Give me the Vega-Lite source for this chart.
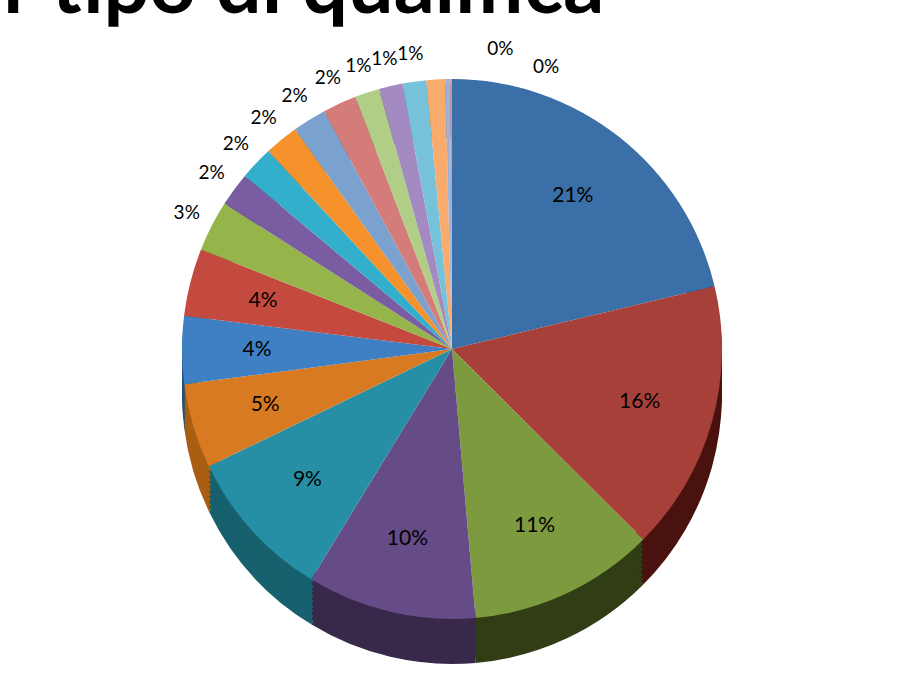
{
  "$schema": "https://vega.github.io/schema/vega-lite/v6.json",
  "width": 904,
  "height": 698,
  "autosize": "none",
  "padding": 0,
  "background": "white",
  "config": {
    "range": {"category": ["#1E3A58", "#4A120E", "#313D14", "#38284A", "#17606E", "#A95E12", "#24507E", "#7A2A22", "#5A7028", "#4A3766", "#1E6E82", "#A8600F", "#4C6788", "#8A4A48", "#6D8452", "#62537A", "#4A7D8C", "#A6703E", "#63738E", "#8A5E5C"]},
    "text": {"font": "Lato", "fontSize": 21, "color": "black"}
  },
  "title": {
    "text": "per tipo di qualifica",
    "font": "Lato",
    "fontWeight": "bold",
    "fontSize": 81,
    "color": "black",
    "anchor": "start",
    "frame": "group",
    "offset": 0,
    "dx": -86,
    "dy": 30
  },
  "data": {
    "values": [
      {"id": 1, "q": "Q01", "v": 21, "label": "21%"},
      {"id": 2, "q": "Q02", "v": 16, "label": "16%"},
      {"id": 3, "q": "Q03", "v": 11, "label": "11%"},
      {"id": 4, "q": "Q04", "v": 10, "label": "10%"},
      {"id": 5, "q": "Q05", "v": 9, "label": "9%"},
      {"id": 6, "q": "Q06", "v": 5, "label": "5%"},
      {"id": 7, "q": "Q07", "v": 4, "label": "4%"},
      {"id": 8, "q": "Q08", "v": 4, "label": "4%"},
      {"id": 9, "q": "Q09", "v": 3, "label": "3%"},
      {"id": 10, "q": "Q10", "v": 2, "label": "2%"},
      {"id": 11, "q": "Q11", "v": 2, "label": "2%"},
      {"id": 12, "q": "Q12", "v": 2, "label": "2%"},
      {"id": 13, "q": "Q13", "v": 2, "label": "2%"},
      {"id": 14, "q": "Q14", "v": 2, "label": "2%"},
      {"id": 15, "q": "Q15", "v": 1.45, "label": "1%"},
      {"id": 16, "q": "Q16", "v": 1.4, "label": "1%"},
      {"id": 17, "q": "Q17", "v": 1.4, "label": "1%"},
      {"id": 18, "q": "Q18", "v": 1.1, "label": "1%"},
      {"id": 19, "q": "Q19", "v": 0.3, "label": "0%"},
      {"id": 20, "q": "Q20", "v": 0.1, "label": "0%"}
    ]
  },
  "encoding": {
    "theta": {"field": "v", "type": "quantitative", "stack": true},
    "order": {"field": "id", "type": "quantitative"}
  },
  "layer": [
    {"mark": {"type": "arc", "outerRadius": 270, "innerRadius": 256, "yOffset": 45}, "encoding": {"color": {"field": "q", "type": "nominal", "legend": null}}},
    {"mark": {"type": "arc", "outerRadius": 270, "innerRadius": 256, "yOffset": 40}, "encoding": {"color": {"field": "q", "type": "nominal", "legend": null}}},
    {"mark": {"type": "arc", "outerRadius": 270, "innerRadius": 256, "yOffset": 35}, "encoding": {"color": {"field": "q", "type": "nominal", "legend": null}}},
    {"mark": {"type": "arc", "outerRadius": 270, "innerRadius": 256, "yOffset": 30}, "encoding": {"color": {"field": "q", "type": "nominal", "legend": null}}},
    {"mark": {"type": "arc", "outerRadius": 270, "innerRadius": 256, "yOffset": 25}, "encoding": {"color": {"field": "q", "type": "nominal", "legend": null}}},
    {"mark": {"type": "arc", "outerRadius": 270, "innerRadius": 256, "yOffset": 20}, "encoding": {"color": {"field": "q", "type": "nominal", "legend": null}}},
    {"mark": {"type": "arc", "outerRadius": 270, "innerRadius": 256, "yOffset": 15}, "encoding": {"color": {"field": "q", "type": "nominal", "legend": null}}},
    {"mark": {"type": "arc", "outerRadius": 270, "innerRadius": 256, "yOffset": 10}, "encoding": {"color": {"field": "q", "type": "nominal", "legend": null}}},
    {"mark": {"type": "arc", "outerRadius": 270, "innerRadius": 256, "yOffset": 5}, "encoding": {"color": {"field": "q", "type": "nominal", "legend": null}}},
    {
      "mark": {"type": "arc", "outerRadius": 270},
      "encoding": {
        "color": {"field": "q", "type": "nominal", "legend": null,
          "scale": {"range": ["#3A6FA8", "#A8403A", "#7E9A3E", "#654C87", "#268FA5", "#D77A22", "#3F80C4", "#C44A40", "#95B54B", "#7A5CA3", "#33AECB", "#F5922C", "#7BA1CF", "#D47C7A", "#B0CE85", "#A38BC1", "#76C2DA", "#F9AB6E", "#9DB3D9", "#D99694"]}}
      }
    },
    {
      "mark": {"type": "text", "radius": 195},
      "encoding": {
        "text": {"field": "label", "type": "nominal", "condition": {"test": "datum.v < 4", "value": ""}}
      }
    },
    {
      "mark": {"type": "text", "radius": 298, "fontSize": 19},
      "encoding": {
        "text": {"field": "label", "type": "nominal", "condition": {"test": "datum.v >= 4 || datum.id >= 18", "value": ""}}
      }
    },
    {
      "mark": {"type": "text", "radius": 300, "align": "left", "dx": 40, "fontSize": 19},
      "encoding": {
        "text": {"field": "label", "type": "nominal", "condition": {"test": "datum.id != 19", "value": ""}}
      }
    },
    {
      "mark": {"type": "text", "radius": 282, "align": "left", "dx": 82, "fontSize": 19},
      "encoding": {
        "text": {"field": "label", "type": "nominal", "condition": {"test": "datum.id != 20", "value": ""}}
      }
    }
  ],
  "resolve": {"scale": {"color": "independent"}}
}
